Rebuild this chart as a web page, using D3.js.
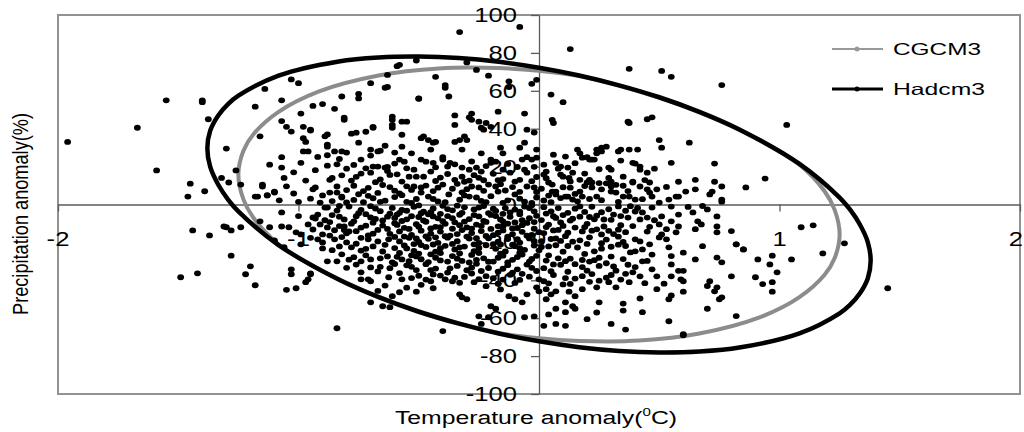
<!DOCTYPE html>
<html>
<head>
<meta charset="utf-8">
<script src="https://cdn.jsdelivr.net/npm/d3@7"></script>
<style>
  body{margin:0;background:#fff;}
  text{font-family:"Liberation Sans",Arial,sans-serif;fill:#000;}
</style>
</head>
<body>
<div id="grafico"></div>
<script>
// ticks and legend
const xTicks=[-2,-1,0,1,2];
const yTicks=[-100,-80,-60,-40,-20,0,20,40,60,80,100];
const legendNames=["CGCM3","Hadcm3"];

// ellipse outlines [temperature, precipitation]
const cgcm3Ring=[[-1.25,15.8],[-1.229,28.4],[-1.1875,37.1],[-1.083,48.9],[-0.917,59.6],[-0.667,68.1],[-0.417,71.8],[-0.167,72.0],[0,70.6],[0.167,67.8],[0.417,59.6],[0.667,48.6],[0.917,34],[1.083,21],[1.1875,7.0],[1.229,-2.7],[1.25,-15.8],
  [1.229,-28.4],[1.1875,-37.1],[1.083,-48.9],[0.917,-59.6],[0.667,-68.1],[0.417,-71.8],[0.167,-72.0],[0,-70.6],[-0.167,-67.8],[-0.417,-59.6],[-0.667,-48.6],[-0.917,-34],[-1.083,-21],[-1.1875,-7.0],[-1.229,2.7]];
const hadcm3Ring=[[-1.379,29.7],[-1.367,39.0],[-1.333,47.1],[-1.292,53.1],[-1.25,57.4],[-1.083,68.0],[-0.833,75.5],[-0.667,77.6],[-0.5,78.1],[-0.333,77.3],[-0.167,75.3],[0,72.2],[0.167,68.1],[0.333,62.9],[0.5,56.6],[0.667,48.9],[0.833,39.6],[1.083,21.4],[1.25,3.6],[1.292,-2.5],[1.333,-10.3],[1.367,-19.8],[1.379,-29.7],
  [1.367,-39.0],[1.333,-47.1],[1.292,-53.1],[1.25,-57.4],[1.083,-68.0],[0.833,-75.5],[0.667,-77.6],[0.5,-78.1],[0.333,-77.3],[0.167,-75.3],[0,-72.2],[-0.167,-68.1],[-0.333,-62.9],[-0.5,-56.6],[-0.667,-48.9],[-0.833,-39.6],[-1.083,-21.4],[-1.25,-3.6],[-1.292,2.5],[-1.333,10.3],[-1.367,19.8]];

// scatter points, split by area of the plot
const dotsOuter=[[-1.96,33],[-1.55,55],[-1.4,55],[-1.67,40.5],[-1.59,18],[-1.45,11],[-1.46,4.2],[-1.39,7],[-1.375,45],[-1.4,54],[-1.44,-13.7],[-1.37,-16.3],[-1.42,-36.3],[-1.49,-38.4],[-1.31,-11.6],[-1.28,-13.7],[-1.3,-12],[-1.24,-12],[-1.28,-27],[-1.2,-32.6],[-1.22,-36.8],[-1.18,-42.6],[-1.05,-45],[-1.01,-44.2],[-0.97,-41],[-0.96,-39.5],[-0.84,-65.3],[-0.4,-66.8],[-0.33,91],[-0.08,93.7],[0.13,82],[0.375,71.6],[0.51,70.5],[0.55,67.4],[0.76,63],[1.03,42],[1.45,-44.2],[1.27,-20.5],[1.09,-12],[1.14,-11],[1.18,-25.8],[0.6,-69],[-0.51,76],[-0.3,75]];

const dotsNW=[[-1.3,29.5],[-1.32,14],[-1.29,11.6],[-1.26,18],[-1.24,10.5],[-1.18,4.2],[-1.16,36],[-1.18,51.6],[-1.14,61],[-1.07,55],[-1.03,66],[-1.0,64],[-1.12,21],[-1.07,19.5],[-1.06,14],[-1.02,17],[-1.15,10.5],[-1.13,5],[-1.1,6.3],[-1.02,5.8],[-1.07,25],[-0.99,48],[-1.07,44],[-1.05,41],[-1.03,38.5],[-0.98,41],[-0.95,39],[-0.98,35],[-0.97,33],[-0.98,28],[-0.96,28],[-0.88,37],[-0.88,31.6],[-0.88,26],[-0.94,52],[-0.9,53],[-0.85,50.5],[-0.99,22],[-0.94,8],[-0.87,13],[-0.87,6.3],
  [-0.82,57],[-0.75,58.4],[-0.75,56],[-0.7,64],[-0.64,61.6],[-0.63,68.4],[-0.59,73],[-0.81,44.7],[-0.78,37.4],[-0.75,32.6],[-0.72,38.4],[-0.69,40.5],[-0.61,44.7],[-0.61,42],[-0.61,40.5],[-0.57,43.7],[-0.57,36.8],[-0.64,31],[-0.7,29],[-0.66,28.4],[-0.74,23.7],[-0.7,25.8],[-0.67,20],[-0.6,21.6],[-0.58,23.7],[-0.74,16.3],[-0.7,16.8],[-0.86,14],[-0.84,9.5],[-0.84,6.3],[-0.82,4.2],[-0.93,9],[-1.1,6.8],[-1.13,4.7],[-1.17,4.2],[-1.15,9.5],[-0.95,39.5],[-0.89,36],[-0.88,30.5],[-0.85,28],[-0.82,28],[-0.83,24],
  [-0.63,62],[-0.58,73.7],[-0.5,55.8],[-0.81,45.8],[-0.8,27.4],[-0.76,37.9],[-0.69,41],[-0.61,46.3],[-0.55,43.7],[-0.67,28],[-0.6,27.4],[-0.57,30.5],[-0.69,20],[-0.64,19.5],
  [-1.08,2.2],[-1.0,1.4],[-0.95,3.1],[-0.91,1.0],[-0.9,4.8],
  [-0.86,1.8],[-0.82,3.7],[-0.77,2.4],[-0.73,1.2],[-0.69,3.3],[-0.64,2.0],[-0.6,3.9],[-0.55,1.4],[-0.51,2.9],[-0.46,4.2],[-0.42,1.6],[-0.375,5.3],[-0.33,2.5],[-0.29,4.2],[-0.26,3.7],[-0.22,1.3],[-0.17,6.8],[-0.13,2.2],[-0.1,5.3],[-0.06,1.5],[-0.01,3.7],
  [-0.8,7.6],[-0.75,5.4],[-0.71,8.8],[-0.67,6.1],[-0.62,9.2],[-0.58,5.8],[-0.53,7.7],[-0.49,9.0],[-0.49,6.3],[-0.44,7.1],[-0.4,10.5],[-0.36,8.3],[-0.32,6.4],[-0.28,9.5],[-0.25,9],[-0.21,10.5],[-0.18,9.5],[-0.14,7.4],[-0.05,9.5],[-0.02,9],
  [-0.78,12.6],[-0.66,13.2],[-0.62,15.6],[-0.57,12.1],[-0.54,14.7],[-0.51,14.7],[-0.48,14.7],[-0.52,9.5],[-0.47,10],[-0.43,12.4],[-0.38,16.1],[-0.35,13.0],[-0.32,14.7],[-0.31,12],[-0.27,15.5],[-0.23,12.8],[-0.19,16.2],[-0.15,13.4],[-0.12,16.8],[-0.08,13],[-0.05,16.8],[-0.03,12.3],
  [-0.49,23.7],[-0.47,22.6],[-0.44,22],[-0.4,25],[-0.4,23.7],[-0.38,20],[-0.37,22],[-0.32,19.5],[-0.29,18.4],[-0.26,19.5],[-0.24,17.4],[-0.2,23.7],[-0.2,22],[-0.18,22.6],[-0.15,18.4],[-0.07,23.7],[-0.05,25],[-0.03,23.7],[-0.01,24.7],[-0.06,18.4],[-0.88,20.5],[-0.8,18.9],[-0.55,19.1],
  [-0.53,27],[-0.45,29],[-0.49,35],[-0.48,36],[-0.46,34],[-0.44,32.6],[-0.43,33],[-0.35,33],[-0.33,34],[-0.31,36],[-0.3,34],[-0.32,29],[-0.24,27],[-0.16,30],[-0.15,27],[-0.08,30],[-0.06,32.6],[-0.01,29],[-0.05,39.5],[-0.02,38],[-0.24,40.5],[-0.23,39.5],[-0.2,41],[-0.22,43],
  [-0.35,47],[-0.35,42],[-0.28,48],[-0.29,46],[-0.28,44.7],[-0.25,43.7],[-0.17,49],[-0.06,48],[-0.43,67.4],[-0.26,71],[-0.21,68],[-0.39,63],[-0.39,61.6],[-0.375,57],[-0.5,56],[-0.125,65],[-0.125,62],[-0.03,63.7],[-0.01,65.8],
  [-0.8,1.1],[-0.71,4.6],[-0.66,1.4],[-0.57,4.9],[-0.53,0.8],[-0.44,2.9],[-0.39,1.2],[-0.31,4.8],[-0.24,1.9],[-0.2,4.4],[-0.15,0.9],[-0.08,3.1],[-0.03,0.8],
  [-0.77,9.9],[-0.73,7.1],[-0.65,10.3],[-0.6,7.3],[-0.55,9.6],[-0.42,8.9],[-0.34,10.9],[-0.3,8.1],[-0.23,7.2],[-0.16,10.7],[-0.11,9.2],[-0.08,6.7],[-0.01,6.6],
  [-0.82,15.4],[-0.76,14.6],[-0.68,11.8],[-0.63,17.7],[-0.59,15.9],[-0.45,17.4],[-0.41,14.2],[-0.29,12.6],[-0.25,14.1],[-0.17,12.9],[-0.1,12.1],[-0.01,14.5],
  [-0.77,20.9],[-0.72,19.1],[-0.63,19.9],[-0.56,22.6],[-0.52,18.4],[-0.43,19.6],[-0.35,21.2],[-0.28,22.7],[-0.22,20.3],[-0.13,21.4],[-0.09,19.8],[-0.02,19.9],
  [-0.93,18.1],[-0.97,12.6],[-1.05,9.6],[-0.92,25.1],[-0.84,21.2]];

const dotsSW=[[-0.88,-1.6],[-0.84,-3.2],[-0.79,-1.1],[-0.74,-2.8],[-0.7,-0.9],[-0.66,-3.5],[-0.61,-1.8],[-0.57,-2.9],[-0.52,-1.2],[-0.48,-3.8],[-0.44,-2.1],[-0.4,-0.7],[-0.36,-3.1],[-0.31,-1.5],[-0.27,-2.6],[-0.23,-0.8],[-0.18,-3.4],[-0.14,-1.9],[-0.1,-2.7],[-0.06,-1.1],[-0.02,-3.6],
  [-1.0,-6.1],[-0.93,-7.4],[-0.86,-5.6],[-0.81,-7.9],[-0.76,-6.2],[-0.72,-5.1],[-0.68,-7.6],[-0.63,-6.4],[-0.59,-5.3],[-0.55,-7.8],[-0.5,-6.6],[-0.46,-5.2],[-0.42,-7.3],[-0.38,-6.1],[-0.33,-5.4],[-0.29,-7.7],[-0.25,-6.3],[-0.2,-5.5],[-0.16,-7.9],[-0.12,-6.5],[-0.08,-5.1],[-0.04,-7.2],[-0.01,-6.0],
  [-1.07,-11.6],[-1.04,-12],[-0.96,-10.5],[-0.91,-10.5],[-0.87,-9.3],[-0.83,-11.4],[-0.78,-10.1],[-0.74,-12.2],[-0.69,-9.6],[-0.65,-11.1],[-0.6,-9.9],[-0.56,-12.3],[-0.51,-10.4],[-0.47,-9.1],[-0.43,-11.8],[-0.39,-10.2],[-0.35,-9.4],[-0.3,-12.1],[-0.26,-10.6],[-0.22,-9.2],[-0.17,-11.5],[-0.13,-10.1],[-0.09,-12.4],[-0.05,-9.7],
  [-1.12,-12],[-1.01,-14.7],[-0.99,-15.8],[-0.9,-15.8],[-0.85,-13.6],[-0.8,-15.2],[-0.76,-14.1],[-0.71,-16.3],[-0.67,-13.4],[-0.62,-15.5],[-0.58,-14.2],[-0.53,-16.1],[-0.49,-13.8],[-0.45,-15.4],[-0.41,-14.3],[-0.37,-16.4],[-0.32,-13.5],[-0.28,-15.1],[-0.24,-14.0],[-0.19,-16.2],[-0.15,-13.7],[-0.11,-15.6],[-0.07,-14.4],[-0.03,-16.0],
  [-0.99,-21],[-0.92,-18.4],[-0.9,-20],[-0.85,-18.4],[-0.8,-20],[-0.71,-18.4],[-0.67,-19.5],[-0.625,-18.4],[-0.58,-19.5],[-0.54,-17.6],[-0.5,-19.8],[-0.46,-18.1],[-0.42,-20.2],[-0.38,-17.5],[-0.34,-19.4],[-0.29,-18.0],[-0.25,-20.3],[-0.21,-17.8],[-0.17,-19.6],[-0.13,-18.2],[-0.08,-20.1],[-0.04,-17.9],
  [-0.78,-22.6],[-0.74,-24.3],[-0.69,-22.1],[-0.65,-24.8],[-0.6,-23.0],[-0.56,-21.6],[-0.52,-24.5],[-0.47,-22.4],[-0.43,-24.9],[-0.39,-21.8],[-0.35,-23.7],[-0.31,-22.2],[-0.27,-24.6],[-0.22,-21.5],[-0.18,-23.4],[-0.14,-24.8],[-0.1,-22.0],[-0.06,-23.9],[-0.02,-21.7],
  [-0.88,-30],[-0.84,-30],[-0.74,-30],[-0.7,-29],[-0.63,-27.4],[-0.61,-30.5],[-0.57,-29],[-0.53,-26.8],[-0.49,-28.9],[-0.45,-26.3],[-0.41,-29.5],[-0.36,-27.2],[-0.32,-29.8],[-0.28,-26.6],[-0.23,-28.4],[-0.19,-30.1],[-0.15,-27.0],[-0.11,-29.2],[-0.07,-26.4],[-0.03,-28.7],
  [-0.74,-35.8],[-0.67,-35.3],[-0.55,-32.1],[-0.51,-34.6],[-0.47,-31.5],[-0.43,-33.8],[-0.38,-35.9],[-0.34,-32.4],[-0.3,-34.7],[-0.26,-31.3],[-0.21,-33.5],[-0.17,-35.4],[-0.13,-32.0],[-0.09,-34.2],[-0.05,-31.7],[-0.01,-35.1],
  [-0.71,-39.5],[-0.625,-38.4],[-0.57,-39.5],[-0.74,-39.5],[-0.7,-40.5],[-0.45,-40.5],[-0.39,-39.5],[-0.36,-40.5],[-0.5,-37.6],[-0.31,-38.2],[-0.27,-41.0],[-0.22,-37.8],[-0.15,-39.6],[-0.1,-41.4],[-0.04,-38.1],
  [-0.58,-46.3],[-0.61,-48.4],[-0.51,-46],[-0.33,-47.4],[-0.32,-49],[-0.3,-50],[-0.25,-59],[-0.2,-53.7],[-0.18,-55],[-0.125,-48.4],[-0.1,-50],[-0.07,-51.6],[-0.02,-59],[-0.05,-47.4],[-0.7,-51.6],[-0.65,-53.7],[-0.62,-54.2],[-0.44,-44.2],[-0.16,-44.8],[-0.22,-43.1],[-0.24,-63],[-0.21,-59.5],[-0.06,-59.5],
  [-1.07,-4.2],[-1.16,-8.9],[-0.94,-6.8],[-0.92,-5.3],[-0.89,-1.6],[-0.81,-11.6],[-0.79,-14.2],[-1.03,-34.2],[-1.03,-36.8],[-0.95,-36.3],[-0.95,-36.8],[-1.06,-22.5],[-1.1,-18.9],
  [-0.58,-4.4],[-0.49,-4.6],[-0.41,-4.9],[-0.34,-0.6],[-0.21,-4.5],[-0.12,-4.2],[-0.03,-0.4],
  [-0.57,-8.7],[-0.48,-8.4],[-0.4,-8.8],[-0.31,-9.0],[-0.23,-8.6],[-0.15,-8.9],[-0.07,-8.3],
  [-0.54,-12.9],[-0.45,-12.6],[-0.36,-12.8],[-0.28,-12.7],[-0.2,-12.9],[-0.11,-12.6],[-0.02,-12.8],
  [-0.56,-16.9],[-0.47,-16.8],[-0.39,-16.7],[-0.3,-16.9],[-0.22,-16.6],[-0.13,-16.9],[-0.05,-16.5],
  [-0.52,-20.9],[-0.44,-21.1],[-0.36,-20.8],[-0.27,-21.0],[-0.19,-20.9],[-0.11,-21.2],[-0.02,-19.3],
  [-0.58,-25.6],[-0.5,-25.9],[-0.41,-25.7],[-0.33,-25.8],[-0.25,-25.6],[-0.16,-25.9],[-0.08,-25.5],
  [-0.54,-29.9],[-0.46,-30.4],[-0.38,-30.1],[-0.29,-30.6],[-0.21,-30.2],[-0.13,-30.5],[-0.04,-30.1],
  [-0.62,-33.6],[-0.58,-36.2],[-0.53,-38.8],[-0.44,-36.9],[-0.35,-38.6],[-0.28,-36.4],[-0.19,-38.9],[-0.12,-37.1],[-0.07,-36.6],
  [-0.86,-24.1],[-0.82,-26.3],[-0.77,-27.8],[-0.9,-23.2],[-0.8,-33.4],[-0.76,-31.7],[-0.66,-32.9],[-0.64,-42.8],[-0.55,-43.9],[-0.49,-42.4],[-0.67,-45.6],
  [-0.83,-0.8],[-0.75,-4.6],[-0.68,-2.1],[-0.62,-4.8],[-0.55,-3.3],[-0.5,-0.5],[-0.45,-4.1],[-0.38,-2.4],[-0.32,-4.4],[-0.25,-1.6],[-0.19,-2.2],[-0.15,-4.9],[-0.08,-3.8],[-0.04,-1.9],
  [-0.89,-8.3],[-0.83,-6.4],[-0.77,-8.9],[-0.7,-6.8],[-0.65,-8.4],[-0.6,-7.1],[-0.53,-6.2],[-0.44,-6.3],[-0.36,-7.2],[-0.27,-5.6],[-0.18,-6.1],[-0.1,-9.5],[-0.02,-9.3],
  [-0.94,-13.2],[-0.88,-12.1],[-0.81,-13.4],[-0.72,-11.2],[-0.63,-12.9],[-0.59,-10.8],[-0.5,-11.7],[-0.41,-11.9],[-0.33,-10.9],[-0.24,-11.3],[-0.15,-11.6],[-0.07,-10.9],
  [-0.95,-17.6],[-0.87,-16.4],[-0.82,-17.2],[-0.74,-17.6],[-0.69,-15.4],[-0.6,-17.1],[-0.51,-17.9],[-0.43,-17.3],[-0.34,-15.6],[-0.26,-17.8],[-0.17,-14.9],[-0.09,-18.3],[0,-14.6],
  [-0.83,-22.1],[-0.76,-20.7],[-0.72,-23.4],[-0.64,-21.3],[-0.55,-23.2],[-0.49,-21.4],[-0.41,-23.1],[-0.33,-22.6],[-0.25,-22.9],[-0.16,-21.1],[-0.08,-23.1],[0,-24.2],
  [-0.79,-29.1],[-0.72,-26.8],[-0.66,-28.4],[-0.59,-27.6],[-0.51,-27.4],[-0.43,-28.1],[-0.34,-28.6],[-0.26,-29.2],[-0.17,-28.1],[-0.09,-27.7],[-0.01,-27.1],
  [-0.7,-33.2],[-0.6,-31.4],[-0.53,-32.9],[-0.45,-34.6],[-0.37,-33.7],[-0.28,-33.3],[-0.24,-35.1],[-0.15,-33.9],[-0.11,-35.9],[-0.03,-33.4],
  [-0.47,-39.6],[-0.41,-37.5],[-0.33,-41.3],[-0.25,-39.4],[-0.17,-41.8],[-0.08,-39.8]];

const dotsNE=[[0.05,58],[0.1,54],[0.055,44.7],[0.06,43],[0.02,15.8],[0.03,17.4],[0.04,11.6],[0.055,10.5],[0.07,22],[0.09,20],[0.12,19.5],[0.09,15.8],[0.1,14.7],[0.125,14],[0.16,29],[0.17,27],[0.18,24.7],[0.21,23.7],[0.23,23.7],[0.24,29],[0.26,28],[0.26,30],[0.29,19.5],[0.3,18.4],[0.34,29],[0.29,14],[0.21,13],[0.22,11.6],[0.055,6.8],[0.07,5.3],[0.12,4.2],[0.17,6.8],[0.18,4.2],[0.24,4.2],[0.35,4.2],[0.32,6.3],[0.37,43.7],
  [0.375,43],[0.45,45],[0.47,46],[0.5,34],[0.51,30],[0.55,22],[0.2,25],[0.22,23.7],[0.24,27],[0.28,30.5],[0.33,28],[0.375,29],[0.41,29],[0.39,22],[0.42,20],[0.45,16.8],[0.46,11.6],[0.49,8],[0.35,14.7],[0.39,12],[0.3,12],[0.3,9.5],[0.3,6.8],[0.375,4.2],[0.4,2.6],[0.5,1],[0.54,2.6],[0.14,16.8],[0.17,13],[0.2,11.6],[0.07,6.8],[0.11,4.2],[0.14,2.6],[0.22,9],[0.26,8],
  [0.625,32.6],[0.73,21.6],[0.65,13],[0.73,12],[0.76,9.5],[0.61,6.8],[0.65,8],[0.72,6.8],[0.86,9],[0.94,13.7],[0.76,2.6],[0.58,12],[0.58,4.2],[0.4,21.6],[0.42,18.4],[0.39,11.6],[0.42,9.5],[0.45,8],[0.46,6.3],[0.47,4.2],[0.57,4.2],[0.71,5.3],[0.76,1.5],
  [0.02,2.1],[0.05,1.2],[0.09,3.4],[0.13,8.9],[0.16,1.7],[0.19,9.7],[0.26,2.3],[0.28,11.2],[0.33,1.4],[0.35,9.9],[0.43,2.8],[0.01,8.3],[0.03,13.9],[0.08,18.9],[0.15,21.8],[0.11,25.3],[0.02,21],
  [0.04,4.7],[0.1,9.1],[0.15,5.6],[0.21,2.9],[0.25,11.3],[0.32,10.4],[0.37,7.1],[0.44,12.9],[0.06,26.3],[0.13,12.2],[0.19,16.3],[0.25,18.6],[0.34,23.2],[0.48,18.9],[0.53,9.3]];

const dotsSE=[[0.02,-1.4],[0.05,-3.6],[0.08,-1.9],[0.12,-4.4],[0.15,-2.2],[0.19,-3.9],[0.22,-1.2],[0.26,-4.1],[0.29,-2.5],[0.33,-1.0],[0.36,-3.3],[0.4,-3.7],[0.43,-4.2],[0.47,-1.6],[0.51,-6.3],[0.58,-5.3],[0.64,-4.2],[0.7,-2.6],[0.74,-6.3],[0.55,-1.1],[0.62,-1.3],[0.68,-0.8],
  [0.01,-8.2],[0.04,-10.6],[0.07,-7.1],[0.1,-11.3],[0.13,-8.5],[0.17,-6.4],[0.2,-10.2],[0.23,-7.8],[0.27,-11.6],[0.3,-8.1],[0.34,-10.9],[0.37,-6.9],[0.42,-7.9],[0.5,-10.5],[0.55,-8.9],[0.58,-11.6],[0.66,-8.9],[0.675,-10.5],[0.46,-11.8],
  [0.02,-15.1],[0.05,-18.2],[0.08,-13.4],[0.11,-16.7],[0.14,-19.6],[0.18,-14.2],[0.21,-17.3],[0.24,-13.1],[0.28,-18.5],[0.31,-15.6],[0.35,-19.8],[0.4,-18.4],[0.42,-19.5],[0.53,-13],[0.57,-14.7],[0.65,-13],[0.74,-14.7],[0.74,-11.6],[0.8,-14],[0.53,-18.4],[0.5,-17.4],[0.51,-15.8],[0.45,-14.3],
  [0.01,-22.4],[0.04,-26.8],[0.07,-21.5],[0.1,-24.9],[0.13,-28.6],[0.16,-22.7],[0.19,-26.1],[0.23,-29.4],[0.26,-23.3],[0.3,-27.5],[0.33,-21.2],[0.46,-21],[0.43,-23.7],[0.4,-24.7],[0.38,-25.3],[0.54,-22.6],[0.43,-30],[0.68,-22],[0.65,-29],[0.74,-28],[0.76,-30.5],[0.82,-21],[0.85,-23.7],[0.55,-27.2],[0.6,-25.4],
  [0.02,-33.6],[0.06,-37.2],[0.09,-31.8],[0.12,-35.5],[0.15,-39.1],[0.18,-33.0],[0.22,-36.7],[0.25,-32.4],[0.28,-38.6],[0.32,-34.9],[0.47,-34.2],[0.4,-33],[0.39,-35.8],[0.42,-37.9],[0.49,-37.9],[0.375,-41],[0.55,-31.6],[0.55,-37.9],[0.58,-35],[0.6,-35],[0.59,-39.5],[0.6,-40.5],[0.49,-44.7],[0.8,-37.9],[0.71,-40.5],[0.7,-43],[0.74,-43.7],[0.73,-45.8],[0,-39.5],[0.02,-40.5],[-0.01,-43.7],[0,-45.8],[0.03,-44.7],[0.05,-47.4],[0.07,-45.8],[0.125,-46],[0.15,-48.4],[0.18,-44.7],[0.24,-43.7],[0.29,-41],[0.32,-43.7],[0.1,-42.2],[0.21,-40.8],
  [0.03,-50],[0.02,-64],[0.07,-63],[0.11,-64],[0.2,-60.5],[0.24,-57],[0.3,-63],[0.04,-58],[0.07,-55],[0.11,-56.8],[0.14,-53.7],[0.15,-55],[0.11,-51.6],[0.25,-51.6],[0.6,-46],[0.55,-48],[0.54,-50],[0.75,-50],[0.76,-49],[0.7,-55],[0.82,-58.9],[0.54,-61.6],[0.6,-68.4],[0.43,-56.8],[0.35,-52.3],[0.42,-49.6],[0.36,-66],[0.35,-56],
  [0.91,-29],[0.97,-27],[0.96,-31.6],[0.99,-35.8],[0.9,-38.4],[0.93,-42],[0.97,-41],[0.97,-46],[0.85,-23.7],[1.05,-29],[0.82,-21],
  [0.03,-4.8],[0.1,-5.6],[0.17,-1.0],[0.24,-5.9],[0.31,-5.3],[0.38,-0.9],
  [0.03,-11.9],[0.09,-9.4],[0.15,-12.2],[0.22,-13.8],[0.29,-13.9],[0.36,-14.6],
  [0.01,-19.3],[0.07,-17.9],[0.12,-21.9],[0.2,-20.8],[0.26,-20.4],[0.33,-17.0],
  [0.03,-29.6],[0.08,-28.4],[0.15,-31.5],[0.21,-30.1],[0.28,-31.0],[0.35,-28.8],
  [0.05,-35.2],[0.11,-38.8],[0.18,-37.8],[0.25,-40.2],[0.34,-39.6],[0.44,-41.5],
  [0.06,-6.2],[0.14,-7.5],[0.21,-6.6],[0.27,-7.9],[0.34,-6.1],[0.41,-1.8],[0.45,-6.9],
  [0.06,-13.7],[0.12,-14.9],[0.19,-11.9],[0.26,-15.8],[0.33,-13.3],[0.39,-11.4],[0.48,-8.3],
  [0.04,-22.1],[0.09,-19.2],[0.17,-18.9],[0.23,-24.7],[0.3,-22.3],[0.36,-21.9],[0.47,-26.4],
  [0.06,-31.6],[0.11,-29.9],[0.18,-29.3],[0.25,-28.1],[0.31,-32.7],[0.37,-31.8],[0.45,-29.8],
  [0.04,-41.6],[0.13,-41.9],[0.2,-34.9],[0.3,-37.2],[0.36,-36.6],[0.52,-41.8]];

const width=1024, height=432;

let svg=d3.select("#grafico")
  .append("svg")
    .attr("width",width)
    .attr("height",height)
    .style("display","block");

let x=d3.scaleLinear().domain([-2,2]).range([58,1020]);
let y=d3.scaleLinear().domain([-100,100]).range([394,15]);

// plot frame
svg.append("rect")
  .attr("x",x(-2))
  .attr("y",y(100))
  .attr("width",x(2)-x(-2))
  .attr("height",y(-100)-y(100))
  .attr("fill","none")
  .attr("stroke","#929292")
  .attr("stroke-width",2);

// axes crossing at the origin
let xAxis=svg.append("g")
  .attr("transform",`translate(0,${y(0)})`)
  .call(d3.axisBottom(x).tickValues(xTicks).tickSize(7).tickSizeOuter(0).tickFormat(""));

let yAxis=svg.append("g")
  .attr("transform",`translate(${x(0)},0)`)
  .call(d3.axisLeft(y).tickValues(yTicks).tickSize(8).tickSizeOuter(0).tickFormat(""));

[xAxis,yAxis].forEach(g=>{
  g.selectAll("path,line").attr("stroke","#5a5a5a").attr("stroke-width",1.3);
});

// tick labels (the last one is pulled in so it stays on the page)
svg.selectAll(".xlab")
  .data(xTicks)
  .enter()
  .append("text")
    .attr("class","xlab")
    .attr("transform",d=>`translate(${d==2?x(d)+3:x(d)},246) scale(1.28,1)`)
    .attr("text-anchor",d=>d==2?"end":"middle")
    .attr("font-size","20px")
    .text(d=>d);

svg.selectAll(".ylab")
  .data(yTicks)
  .enter()
  .append("text")
    .attr("class","ylab")
    .attr("transform",d=>`translate(517,${y(d)+7}) scale(1.28,1)`)
    .attr("text-anchor","end")
    .attr("font-size","20px")
    .text(d=>d);

// ellipses
let ring=d3.line()
  .x(d=>x(d[0]))
  .y(d=>y(d[1]))
  .curve(d3.curveCatmullRomClosed);

svg.append("path")
  .attr("d",ring(cgcm3Ring))
  .attr("fill","none")
  .attr("stroke","#8c8c8c")
  .attr("stroke-width",4);

svg.append("path")
  .attr("d",ring(hadcm3Ring))
  .attr("fill","none")
  .attr("stroke","#000")
  .attr("stroke-width",4.5);

// scatter
let allDots=[].concat(dotsOuter,dotsNW,dotsSW,dotsNE,dotsSE);
svg.append("g")
  .selectAll("ellipse")
  .data(allDots)
  .enter()
  .append("ellipse")
    .attr("cx",d=>x(d[0]))
    .attr("cy",d=>y(d[1]))
    .attr("rx",3.4)
    .attr("ry",2.9)
    .attr("fill","#000");

// axis titles
let xTitle=svg.append("text")
  .attr("x",395)
  .attr("y",424)
  .attr("font-size","18px")
  .attr("textLength",282)
  .attr("lengthAdjust","spacingAndGlyphs");
xTitle.append("tspan").text("Temperature anomaly(");
xTitle.append("tspan").attr("font-size","11px").attr("dy",-8).text("0");
xTitle.append("tspan").attr("dy",8).text("C)");

svg.append("text")
  .attr("transform","translate(28,214) rotate(-90) scale(1,1.2)")
  .attr("text-anchor","middle")
  .attr("font-size","18px")
  .attr("textLength",202)
  .attr("lengthAdjust","spacingAndGlyphs")
  .text("Precipitation anomaly(%)");

// legend
let legendColors=["#999","#000"];
let legendWidths=[2,3];
let legend=svg.append("g").attr("id","legend");
legendNames.forEach((name,i)=>{
  let ly=49+i*40;
  legend.append("line")
    .attr("x1",832).attr("x2",883)
    .attr("y1",ly).attr("y2",ly)
    .attr("stroke",legendColors[i])
    .attr("stroke-width",legendWidths[i]);
  legend.append("circle")
    .attr("cx",857).attr("cy",ly)
    .attr("r",2.5)
    .attr("fill",legendColors[i]);
  legend.append("text")
    .attr("x",893)
    .attr("y",ly+6)
    .attr("font-size","16.5px")
    .attr("textLength",i==0?88:92)
    .attr("lengthAdjust","spacingAndGlyphs")
    .text(name);
});
</script>
</body>
</html>
